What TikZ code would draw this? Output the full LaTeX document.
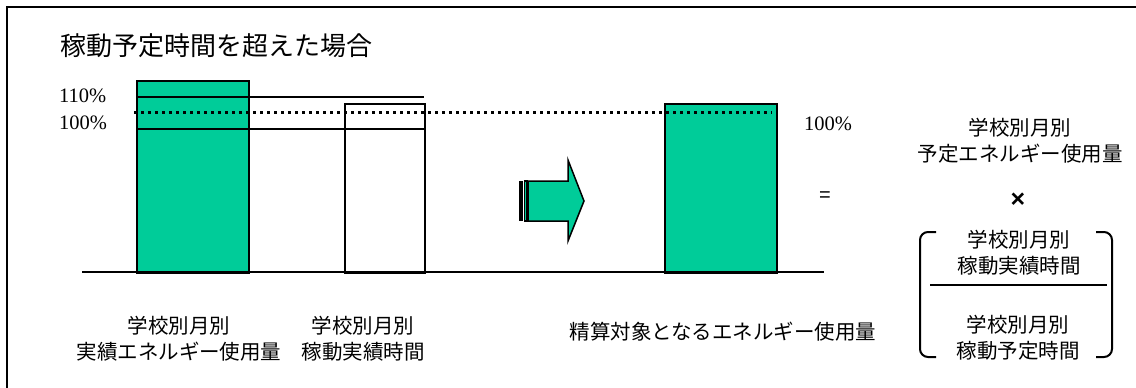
\documentclass[tikz,border=0pt]{standalone}
\usepackage{fontspec}
\setmainfont{Liberation Serif}
\newfontfamily\jp{Noto Sans CJK JP}
\newfontfamily\sansf{Liberation Sans}
\definecolor{bargreen}{RGB}{0,204,153}
\begin{document}
\begin{tikzpicture}[x=1pt,y=-1pt,
  bar/.style={draw=black, line width=2pt, inner sep=0pt, anchor=north west},
  jtext/.style={font=\jp\fontsize{20.5}{26}\selectfont, align=center, inner sep=0pt},
  pct/.style={font=\fontsize{20.5}{24}\selectfont, inner sep=0pt, anchor=west},
  rule/.style={line width=2pt},
  dots/.style={line width=3pt, dash pattern=on 3pt off 4pt}]
\useasboundingbox (0,0) rectangle (1136,388);
% frame
\draw[line width=2pt] (7,400) -- (7,7) -- (1150,7);
% title
\node[font=\jp\fontsize{26}{30}\selectfont, inner sep=0pt, anchor=west] (title) at (60,46) {稼動予定時間を超えた場合};
% bars
\node[bar, fill=bargreen, minimum width=112pt, minimum height=192pt] (b1) at (136,80) {};
\node[bar, fill=white, minimum width=80pt, minimum height=169pt] (b2) at (344,103) {};
\node[bar, fill=bargreen, minimum width=112pt, minimum height=169pt] (b3) at (664,103) {};
% level lines
\draw[rule] (136,97) -- (424,97);
\draw[rule] (136,129) -- (424,129);
\draw[rule] (82,272) -- (824,272);
\draw[dots] (134,112) -- (772,112);
% percent labels
\node[pct] (p110) at (59,96) {110\%};
\node[pct] (p100) at (59,123) {100\%};
\node[pct] (p100r) at (804,124) {100\%};
% arrow
\fill[black] (519,181) rectangle (523,221);
\draw[line width=1.2pt, fill=bargreen] (524.5,181) rectangle (527,221);
\draw[line width=1.5pt, fill=bargreen, line join=miter]
  (528,181) -- (568,181) -- (568,160) -- (584,201) -- (568,241) -- (568,221) -- (528,221) -- cycle;
% bottom labels
\node[jtext] (l1) at (179,339) {学校別月別\\実績エネルギー使用量};
\node[jtext] (l2) at (363,339) {学校別月別\\稼動実績時間};
\node[jtext] (l3) at (723,332) {精算対象となるエネルギー使用量};
% formula
\node[font=\sansf\fontsize{20}{24}\selectfont, inner sep=0pt] (eq) at (825,197) {=};
\node[jtext] (r1) at (1020,141) {学校別月別\\予定エネルギー使用量};
\node[font=\sansf\bfseries\fontsize{25}{28}\selectfont, inner sep=0pt] (times) at (1018,200) {×};
\node[jtext] (f1) at (1019,253) {学校別月別\\稼動実績時間};
\draw[rule] (930,285) -- (1107,285);
\node[jtext] (f2) at (1018,338) {学校別月別\\稼動予定時間};
\draw[line width=2pt, rounded corners=8pt] (936,232) -- (920,232) -- (920,357) -- (936,357);
\draw[line width=2pt, rounded corners=8pt] (1096,232) -- (1112,232) -- (1112,357) -- (1096,357);
\end{tikzpicture}
\end{document}
